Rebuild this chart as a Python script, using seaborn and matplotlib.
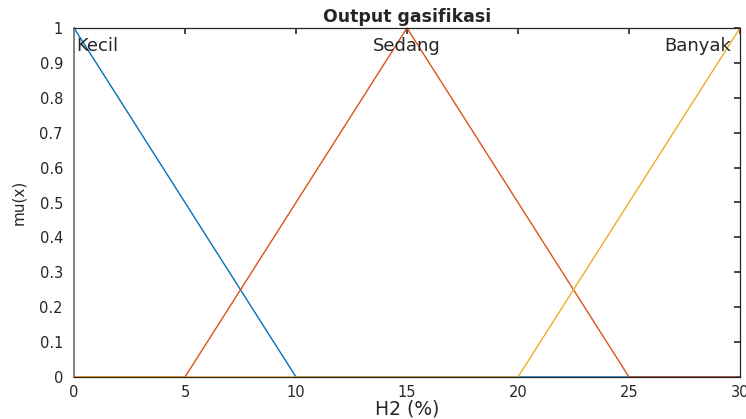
import matplotlib
matplotlib.use("Agg")
import matplotlib.pyplot as plt
import seaborn as sns
import pandas as pd

# Membership function breakpoints for output variable H2 (%)
kecil_x = [0, 10, 30]
kecil_y = [1, 0, 0]
sedang_x = [0, 5, 15, 25, 30]
sedang_y = [0, 0, 1, 0, 0]
banyak_x = [0, 20, 30]
banyak_y = [0, 0, 1]

names = ["Kecil", "Sedang", "Banyak"]
colors = ["#0072BD", "#D95319", "#EDB120"]
x_ticks = [0, 5, 10, 15, 20, 25, 30]
y_ticks = [0, 0.1, 0.2, 0.3, 0.4, 0.5, 0.6, 0.7, 0.8, 0.9, 1]

sns.set_style("white")
plt.rcParams["font.family"] = ["DejaVu Sans"]

fig = plt.figure(figsize=(7.46, 4.19), dpi=100)
ax = fig.add_axes([74 / 746, 1 - 377 / 419, (740 - 74) / 746, (377 - 28) / 419])

series = [(kecil_x, kecil_y), (sedang_x, sedang_y), (banyak_x, banyak_y)]
for (xs, ys), name, c in zip(series, names, colors):
    df = pd.DataFrame({"x": xs, "y": ys})
    sns.lineplot(data=df, x="x", y="y", ax=ax, color=c, lw=1.0, sort=False,
                 estimator=None, clip_on=False)

ax.set_xlim(0, 30)
ax.set_ylim(0, 1)
ax.set_xticks(x_ticks)
ax.set_xticklabels([f"{v:g}" for v in x_ticks])
ax.set_yticks(y_ticks)
ax.set_yticklabels([f"{v:g}" for v in y_ticks])
ax.tick_params(direction="in", top=True, right=True, length=4, width=1.2,
               labelsize=10.5, colors="#262626", pad=8)
ax.tick_params(axis="x", pad=6)
for s in ax.spines.values():
    s.set_color("#262626")
    s.set_linewidth(0.9)
ax.spines["left"].set_color("#808080")
ax.spines["left"].set_linewidth(1.4)

ax.set_xlabel("H2 (%)", fontsize=13.5, color="#262626", va="center")
ax.xaxis.set_label_coords(0.5, (377 - 409) / 349)
ax.set_ylabel("mu(x)", fontsize=11, color="#262626", va="center")
ax.yaxis.set_label_coords((19 - 74) / 666, 0.5)
ax.set_title("Output gasifikasi", fontsize=12.5, fontweight="bold", pad=4)

# Membership function names at each peak
ax.text(0.1, 0.948, "Kecil", fontsize=13, ha="left", va="center")
ax.text(15, 0.948, "Sedang", fontsize=13, ha="center", va="center")
ax.text(29.6, 0.948, "Banyak", fontsize=13, ha="right", va="center")

fig.savefig("out.png", dpi=100)
